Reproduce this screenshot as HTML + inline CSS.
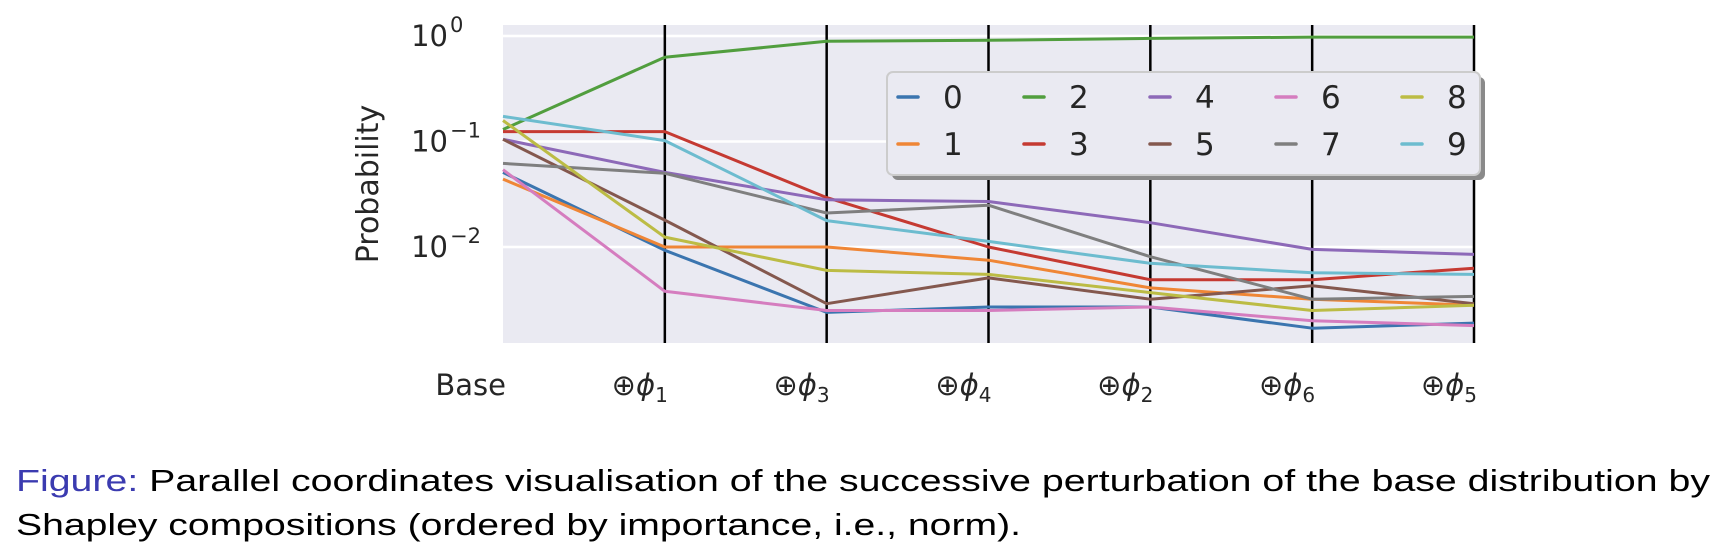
<!DOCTYPE html>
<html><head><meta charset="utf-8"><style>
body{margin:0;background:#fff;}
svg{display:block;font-family:"DejaVu Sans","Liberation Sans",sans-serif;}
</style></head><body>
<svg id="chart" width="1721" height="560" viewBox="0 0 1721 560" xmlns="http://www.w3.org/2000/svg">
<rect x="503" y="25" width="971" height="318" fill="#eaeaf2"/>
<g id="grid"></g>
<g id="vlines"></g>
<g id="series"></g>
<g id="yticks" font-size="29" fill="#262626"></g>
<text transform="translate(378,184) rotate(-90)" text-anchor="middle" font-size="30" fill="#262626">Probability</text>
<g id="xticks" font-size="29" fill="#262626"></g>
<g id="legend"></g>
<text x="16" y="491" font-size="31" font-family="Liberation Sans, sans-serif" textLength="1694" lengthAdjust="spacingAndGlyphs"><tspan fill="#3b3bb0">Figure:</tspan> Parallel coordinates visualisation of the successive perturbation of the base distribution by</text>
<text x="16" y="535" font-size="31" font-family="Liberation Sans, sans-serif" textLength="1005" lengthAdjust="spacingAndGlyphs">Shapley compositions (ordered by importance, i.e., norm).</text>
</svg>
<script>
const categories = ["Base","1","3","4","2","6","5"];
const seriesNames = ["0","1","2","3","4","5","6","7","8","9"];
const s0 = [0.051,0.0093,0.0024,0.0027,0.0027,0.0017,0.0019];
const s1 = [0.044,0.010,0.010,0.0075,0.0041,0.0032,0.0028];
const s2 = [0.130,0.63,0.89,0.91,0.95,0.976,0.976];
const s3 = [0.124,0.124,0.0294,0.010,0.0049,0.0049,0.0063];
const s4 = [0.105,0.051,0.028,0.027,0.017,0.0095,0.0085];
const s5 = [0.105,0.018,0.0029,0.0051,0.0032,0.0043,0.0029];
const s6 = [0.054,0.0038,0.0025,0.0025,0.0027,0.0020,0.0018];
const s7 = [0.062,0.050,0.021,0.0249,0.0081,0.0032,0.0034];
const s8 = [0.158,0.0124,0.0060,0.0055,0.0037,0.0025,0.0028];
const s9 = [0.173,0.102,0.0178,0.0113,0.0070,0.0057,0.0055];
const yTickExps = [0,-1,-2];
const colors = ['#3b75af','#ef8636','#519e3e','#c53a32','#8d69b8','#84584e','#d57dbf','#7f7f7f','#bcbc45','#6dbccf'];
const allSeries = [s0,s1,s2,s3,s4,s5,s6,s7,s8,s9];
const NS = "http://www.w3.org/2000/svg";
const X0 = 503, X1 = 1474, YT = 25, YB = 343;
function xScale(i){ return X0 + i*(X1-X0)/(categories.length-1); }
function yScale(p){ return 36 - 105.5*Math.log10(p); }
function mk(tag, attrs, parent){ const e=document.createElementNS(NS,tag); for(const k in attrs) e.setAttribute(k,attrs[k]); parent.appendChild(e); return e; }
const grid=document.getElementById('grid'), vl=document.getElementById('vlines'), ser=document.getElementById('series'), yt=document.getElementById('yticks'), xt=document.getElementById('xticks'), lg=document.getElementById('legend');
yTickExps.forEach(e=>{
  const y=yScale(Math.pow(10,e));
  const g=mk('line',{x1:X0,x2:X1,y1:y,y2:y,stroke:'#fff','stroke-width':2.5},grid);
  
  
  const t=mk('text',{x:448,y:y+10,'text-anchor':'end'},yt);
  
  
  t.textContent='10';
  const sup=mk('tspan',{x:450,dy:-14,'font-size':21,'text-anchor':'start'},t);
  sup.textContent = e===0 ? '0' : '\u2212'+(-e);
  t.setAttribute('text-anchor','end');
});
categories.forEach((c,i)=>{
  const x=xScale(i);
  if(i>0){
    const l=mk('line',{x1:x,x2:x,y1:YT,y2:YB,stroke:'#000','stroke-width':2.5},vl);
    
    
  }
  const t=mk('text',{x:x+3,y:395,'text-anchor':'end'},xt);
  
  
  if(c==='Base'){ t.textContent='Base'; }
  else {
    const a=mk('tspan',{},t); a.textContent='\u2295';
    const b=mk('tspan',{'font-style':'italic'},t); b.textContent='\u03d5';
    const d=mk('tspan',{'font-size':20,dy:7},t); d.textContent=c;
  }
});
allSeries.forEach((vals,k)=>{
  const pts=vals.map((v,i)=>xScale(i).toFixed(1)+','+yScale(v).toFixed(1)).join(' ');
  const p=mk('polyline',{points:pts,fill:'none',stroke:colors[k],'stroke-width':3,'stroke-linejoin':'round'},ser);
  
  
});
const sh=mk('rect',{x:892,y:77,width:593,height:103,rx:6,fill:'#8a8a8a'},lg);


const box=mk('rect',{x:887,y:72,width:593,height:103,rx:6,fill:'#eaeaf2',stroke:'#cccccc','stroke-width':2},lg);


seriesNames.forEach((n,k)=>{
  const col=Math.floor(k/2), row=k%2;
  const cy = row===0 ? 97 : 144;
  const hx = 898 + 126*col;
  const h=mk('line',{x1:hx,x2:hx+20,y1:cy,y2:cy,stroke:colors[k],'stroke-width':3.5,'stroke-linecap':'round'},lg);
  
  
  const t=mk('text',{x:hx+45,y:cy+11,'font-size':31,fill:'#262626'},lg);
  
  
  t.textContent=n;
});
</script>
</body></html>
